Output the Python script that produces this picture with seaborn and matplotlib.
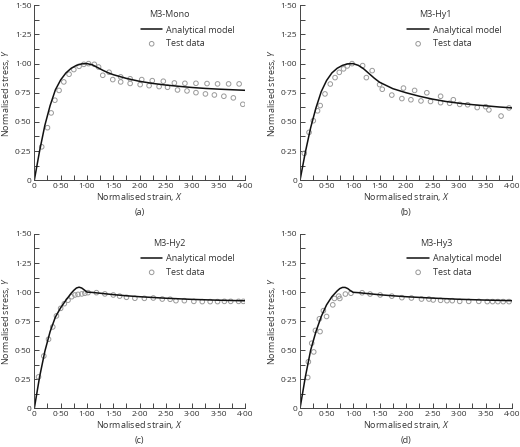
import numpy as np
import pandas as pd
import seaborn as sns
import matplotlib
matplotlib.use('Agg')
import matplotlib.pyplot as plt
from matplotlib.ticker import MultipleLocator, FuncFormatter

sns.set_theme(style='ticks')
plt.rcParams['font.family'] = ['Open Sans', 'DejaVu Sans']
plt.rcParams['mathtext.fontset'] = 'custom'
plt.rcParams['mathtext.it'] = 'Open Sans:italic'
plt.rcParams['mathtext.rm'] = 'Open Sans'

# analytical model curves
model_x_a = [0, 0.1, 0.2, 0.3, 0.4, 0.5, 0.6, 0.7, 0.8, 0.9, 1.0, 1.1, 1.2, 1.3, 1.4, 1.5,
             1.75, 2.0, 2.25, 2.5, 2.75, 3.0, 3.25, 3.5, 3.75, 4.0]
model_y_a = [0, 0.25, 0.47, 0.64, 0.775, 0.86, 0.92, 0.96, 0.985, 0.998, 1.0, 0.99, 0.967,
             0.943, 0.922, 0.905, 0.873, 0.848, 0.83, 0.816, 0.805, 0.795, 0.787, 0.781, 0.776, 0.771]

model_x_b = model_x_a
model_y_b = [0, 0.24, 0.45, 0.62, 0.76, 0.855, 0.92, 0.96, 0.985, 0.998, 1.0, 0.985, 0.955,
             0.915, 0.875, 0.84, 0.785, 0.75, 0.72, 0.695, 0.675, 0.66, 0.648, 0.638, 0.628, 0.62]

model_x_c = [0, 0.1, 0.2, 0.3, 0.4, 0.5, 0.6, 0.7, 0.75, 0.8, 0.85, 0.9, 0.95, 1.0, 1.1, 1.25,
             1.5, 1.75, 2.0, 2.5, 3.0, 3.5, 4.0]
model_y_c = [0, 0.27, 0.49, 0.66, 0.785, 0.865, 0.93, 0.99, 1.015, 1.035, 1.042, 1.035, 1.018,
             1.0, 0.997, 0.99, 0.978, 0.968, 0.96, 0.947, 0.937, 0.93, 0.925]

model_x_d = model_x_c
model_y_d = [0, 0.27, 0.5, 0.66, 0.79, 0.89, 0.96, 1.01, 1.03, 1.04, 1.04, 1.03, 1.012,
             0.998, 0.995, 0.988, 0.977, 0.968, 0.96, 0.948, 0.938, 0.931, 0.926]

# test data points
test_x_a = [0.14, 0.25, 0.32, 0.39, 0.47, 0.56, 0.66, 0.75, 0.85, 0.94, 1.03, 1.14, 1.22, 1.30,
            1.42, 1.49, 1.64, 1.64, 1.82, 1.82, 2.01, 2.04, 2.18, 2.24, 2.37, 2.45, 2.53, 2.66,
            2.72, 2.86, 2.90, 3.07, 3.07, 3.25, 3.28, 3.42, 3.48, 3.60, 3.69, 3.78, 3.89, 3.96]
test_y_a = [0.286, 0.45, 0.577, 0.686, 0.77, 0.843, 0.909, 0.949, 0.977, 0.994, 1.0, 0.994,
            0.971, 0.90, 0.926, 0.863, 0.886, 0.843, 0.87, 0.83, 0.82, 0.863, 0.811, 0.854,
            0.803, 0.849, 0.797, 0.834, 0.774, 0.831, 0.766, 0.831, 0.751, 0.74, 0.829, 0.731,
            0.826, 0.72, 0.826, 0.706, 0.826, 0.651]

test_x_b = [0.08, 0.17, 0.25, 0.33, 0.38, 0.47, 0.57, 0.66, 0.74, 0.82, 0.89, 0.98, 1.18, 1.25,
            1.36, 1.50, 1.55, 1.73, 1.92, 1.95, 2.09, 2.16, 2.28, 2.39, 2.46, 2.65, 2.65, 2.82,
            2.89, 3.01, 3.16, 3.34, 3.50, 3.56, 3.79, 3.94]
test_y_b = [0.23, 0.41, 0.51, 0.595, 0.64, 0.74, 0.825, 0.88, 0.925, 0.955, 0.98, 1.0, 0.983,
            0.88, 0.94, 0.82, 0.78, 0.73, 0.70, 0.79, 0.69, 0.77, 0.68, 0.75, 0.675, 0.72,
            0.665, 0.66, 0.69, 0.65, 0.647, 0.623, 0.63, 0.603, 0.55, 0.62]

test_x_c = [0.08, 0.18, 0.27, 0.35, 0.42, 0.50, 0.57, 0.64, 0.71, 0.77, 0.83, 0.90, 0.96, 1.02,
            1.18, 1.34, 1.50, 1.62, 1.75, 1.91, 2.09, 2.26, 2.43, 2.58, 2.69, 2.85, 3.03, 3.19,
            3.34, 3.48, 3.61, 3.73, 3.88, 3.97]
test_y_c = [0.27, 0.45, 0.594, 0.70, 0.795, 0.86, 0.90, 0.93, 0.96, 0.975, 0.98, 0.984, 0.99,
            0.995, 0.995, 0.984, 0.975, 0.965, 0.955, 0.947, 0.946, 0.949, 0.94, 0.938, 0.926,
            0.926, 0.92, 0.918, 0.918, 0.918, 0.92, 0.92, 0.92, 0.92]

test_x_d = [0.145, 0.157, 0.22, 0.258, 0.29, 0.365, 0.377, 0.44, 0.50, 0.617, 0.648, 0.73, 0.75,
            0.855, 0.96, 1.17, 1.32, 1.51, 1.73, 1.92, 2.10, 2.29, 2.43, 2.51, 2.65, 2.77, 2.87,
            3.01, 3.18, 3.37, 3.53, 3.63, 3.73, 3.83, 3.94]
test_y_d = [0.265, 0.40, 0.56, 0.485, 0.67, 0.77, 0.66, 0.84, 0.79, 0.89, 0.945, 0.965, 0.945,
            0.983, 0.99, 0.994, 0.983, 0.975, 0.965, 0.952, 0.949, 0.94, 0.94, 0.932, 0.929,
            0.926, 0.926, 0.92, 0.92, 0.92, 0.918, 0.918, 0.918, 0.918, 0.918]

names = ['M3-Mono', 'M3-Hy1', 'M3-Hy2', 'M3-Hy3']
letters = ['(a)', '(b)', '(c)', '(d)']
models = [(model_x_a, model_y_a), (model_x_b, model_y_b), (model_x_c, model_y_c), (model_x_d, model_y_d)]
tests = [(test_x_a, test_y_a), (test_x_b, test_y_b), (test_x_c, test_y_c), (test_x_d, test_y_d)]

positions = [[0.066, 0.597, 0.405, 0.391],
             [0.577, 0.597, 0.408, 0.391],
             [0.066, 0.0866, 0.405, 0.39],
             [0.577, 0.0866, 0.408, 0.39]]

txt = '#333333'


def fmt(v, pos):
    if abs(v) < 1e-9:
        return '0'
    return f'{v:.2f}'.replace('.', '\u00b7')


fig = plt.figure(figsize=(5.2, 4.47), dpi=100)

for i in range(4):
    ax = fig.add_axes(positions[i])
    mx, my = models[i]
    tx, ty = tests[i]
    sns.lineplot(x=mx, y=my, ax=ax, color='#111111', lw=1.1, label='Analytical model', sort=False)
    sns.scatterplot(x=tx, y=ty, ax=ax, marker='o', s=11, facecolor='none',
                    edgecolor='#9a9a9a', linewidth=0.7, label='Test data', zorder=1)
    ax.set_xlim(0, 4)
    ax.set_ylim(0, 1.5)
    sns.despine(ax=ax)
    ax.xaxis.set_major_locator(MultipleLocator(0.5))
    ax.xaxis.set_minor_locator(MultipleLocator(0.25))
    ax.yaxis.set_major_locator(MultipleLocator(0.25))
    ax.yaxis.set_minor_locator(MultipleLocator(0.125))
    ax.xaxis.set_major_formatter(FuncFormatter(fmt))
    ax.yaxis.set_major_formatter(FuncFormatter(fmt))
    ax.tick_params(which='both', direction='in', length=3.5, width=0.7, color='#444444',
                   labelsize=6, labelcolor=txt, pad=2)
    for s in ['left', 'bottom']:
        ax.spines[s].set_linewidth(0.7)
        ax.spines[s].set_color('#444444')
    ax.set_xlabel('Normalised strain, $X$', fontsize=6.5, color=txt, labelpad=1)
    ax.set_ylabel('Normalised stress, $Y$', fontsize=6.5, color=txt, labelpad=2)
    ax.text(0.5, -0.185, letters[i], transform=ax.transAxes, ha='center', va='center',
            fontsize=6.5, color=txt)
    ax.text(0.64, 0.947, names[i], transform=ax.transAxes, ha='center', va='center',
            fontsize=6.5, color=txt)
    leg = ax.legend(loc='upper left', bbox_to_anchor=(0.48, 0.915), frameon=False,
                    fontsize=6.5, handlelength=2.4, handletextpad=0.4,
                    labelspacing=0.5, borderaxespad=0.2)
    for t in leg.get_texts():
        t.set_color(txt)

fig.savefig('out.png', dpi=100)
